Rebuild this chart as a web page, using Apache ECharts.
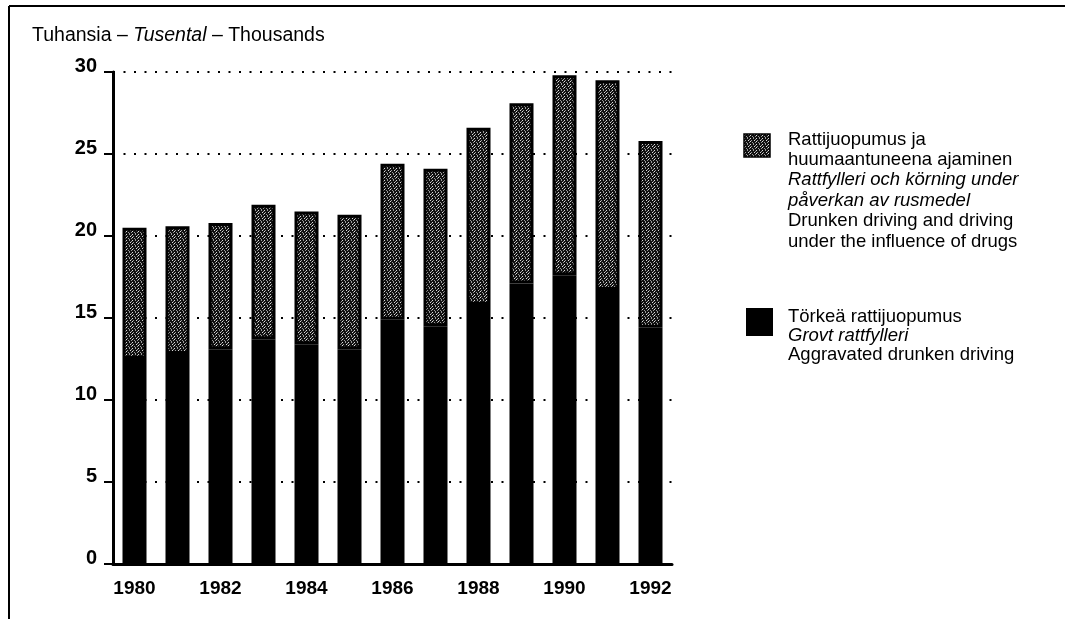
<html>
<head>
<meta charset="UTF-8" />
<title>Rattijuopumus 1980-1992</title>
<style>
  html, body { margin: 0; padding: 0; background: #fff; }
  #main { width: 1065px; height: 619px; }
</style>
</head>
<body>
<div id="main"></div>
<script src="https://cdn.jsdelivr.net/npm/echarts@6/dist/echarts.min.js"></script>
<script>
// vuodet
var years = ['1980', '1981', '1982', '1983', '1984', '1985', '1986',
             '1987', '1988', '1989', '1990', '1991', '1992'];
// Törkeä rattijuopumus (tuhansia)
var aggravated = [12.5, 12.8, 13.1, 13.7, 13.4, 13.1, 14.9, 14.5, 15.8, 17.1, 17.6, 16.7, 14.4];
// Rattijuopumus ja huumaantuneena ajaminen (tuhansia)
var drunken = [8.0, 7.8, 7.7, 8.2, 8.1, 8.2, 9.5, 9.6, 10.8, 11.0, 12.2, 12.8, 11.4];
var yTicks = [0, 5, 10, 15, 20, 25, 30];

var FONT = "'Liberation Sans', Arial, sans-serif";

// rasterikuvio harmaalle sarjalle
function makePattern() {
    var c = document.createElement('canvas');
    c.width = 6; c.height = 6;
    var ctx = c.getContext('2d');
    ctx.fillStyle = '#111';
    ctx.fillRect(0, 0, 6, 6);
    var dots = [[0,0],[3,0],[1,2],[4,2],[2,4],[5,4],[0,3],[3,5],[5,1]];
    for (var i = 0; i < dots.length; i++) {
        ctx.fillStyle = (i % 3 === 0) ? '#dcdcdc' : '#9a9a9a';
        ctx.fillRect(dots[i][0], dots[i][1], 1, 1);
    }
    return c;
}
var pattern = { image: makePattern(), repeat: 'repeat' };

var myChart = echarts.init(document.getElementById('main'));

var option = {
    animation: false,
    backgroundColor: '#fff',
    textStyle: { fontFamily: FONT, color: '#000' },
    grid: { left: 113, top: 72, width: 559, bottom: 55 },
    xAxis: {
        type: 'category',
        data: years,
        axisLine: { lineStyle: { color: '#000', width: 3 } },
        axisTick: { show: false },
        axisLabel: {
            interval: 1,
            margin: 15,
            fontSize: 19,
            fontWeight: 'bold',
            color: '#000',
            fontFamily: FONT
        }
    },
    yAxis: {
        type: 'value',
        min: yTicks[0],
        max: yTicks[yTicks.length - 1],
        interval: 5,
        axisLine: { show: true, lineStyle: { color: '#000', width: 3 } },
        axisTick: { show: true, length: 9, lineStyle: { color: '#000', width: 2 } },
        axisLabel: {
            margin: 16,
            fontSize: 20,
            fontWeight: 'bold',
            color: '#000',
            fontFamily: FONT,
            verticalAlign: 'bottom',
            lineHeight: 12
        },
        splitLine: {
            show: true,
            lineStyle: { color: '#000', width: 2, type: [2, 8.5] }
        }
    },
    series: [
        {
            name: 'Törkeä rattijuopumus',
            type: 'bar',
            stack: 'total',
            barWidth: 24,
            itemStyle: { color: '#000' },
            data: aggravated
        },
        {
            name: 'Rattijuopumus ja huumaantuneena ajaminen',
            type: 'bar',
            stack: 'total',
            barWidth: 24,
            itemStyle: { color: pattern, borderColor: '#000', borderWidth: 3 },
            data: drunken
        }
    ],
    graphic: [
        // kehys
        { type: 'line', shape: { x1: 9, y1: 6, x2: 1065, y2: 6 }, style: { stroke: '#000', lineWidth: 2 } },
        { type: 'line', shape: { x1: 9, y1: 6, x2: 9, y2: 619 }, style: { stroke: '#000', lineWidth: 2 } },
        // otsikko
        {
            type: 'text', left: 32, top: 26,
            style: {
                text: '{n|Tuhansia – }{i|Tusental}{n| – Thousands}',
                rich: {
                    n: { fontSize: 19.5, fontFamily: FONT, fill: '#000' },
                    i: { fontSize: 19.5, fontFamily: FONT, fontStyle: 'italic', fill: '#000' }
                }
            }
        },
        // selite
        { type: 'rect', shape: { x: 744, y: 134, width: 26, height: 23 }, style: { fill: pattern, stroke: '#000', lineWidth: 1.5 } },
        {
            type: 'text', left: 788, top: 130,
            style: {
                text: '{n|Rattijuopumus ja}\n{n|huumaantuneena ajaminen}\n{i|Rattfylleri och körning under}\n{i|påverkan av rusmedel}\n{n|Drunken driving and driving}\n{n|under the influence of drugs}',
                rich: {
                    n: { fontSize: 18.5, lineHeight: 20.4, fontFamily: FONT, fill: '#000' },
                    i: { fontSize: 18.5, lineHeight: 20.4, fontFamily: FONT, fontStyle: 'italic', fill: '#000' }
                }
            }
        },
        { type: 'rect', shape: { x: 746, y: 308, width: 27, height: 28 }, style: { fill: '#000' } },
        {
            type: 'text', left: 788, top: 307,
            style: {
                text: '{n|Törkeä rattijuopumus}\n{i|Grovt rattfylleri}\n{n|Aggravated drunken driving}',
                rich: {
                    n: { fontSize: 18.5, lineHeight: 19, fontFamily: FONT, fill: '#000' },
                    i: { fontSize: 18.5, lineHeight: 19, fontFamily: FONT, fontStyle: 'italic', fill: '#000' }
                }
            }
        }
    ]
};

myChart.setOption(option);
</script>
</body>
</html>
